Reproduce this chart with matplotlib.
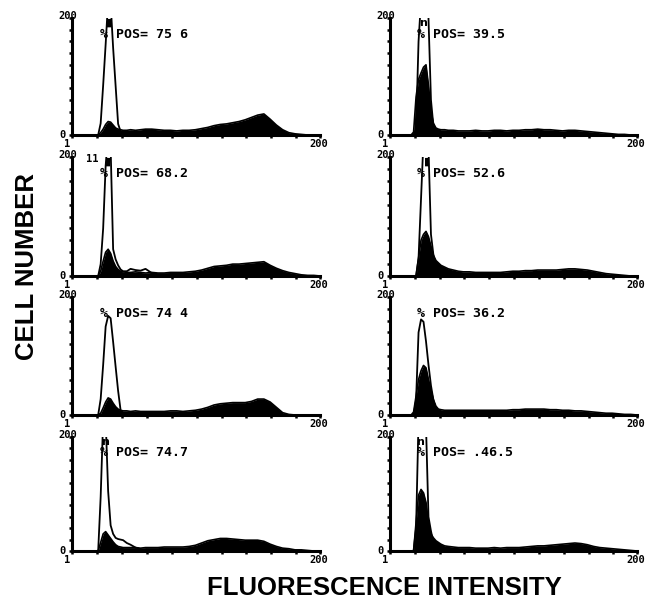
import matplotlib
matplotlib.use('Agg')
import matplotlib.pyplot as plt

# channel grids (fluorescence channel 1..200)
channels = [1, 10, 18, 20, 22, 24, 26, 28, 30, 32, 34, 36, 38, 40, 42, 45, 48, 52, 56,
            60, 65, 70, 75, 80, 85, 90, 95, 100, 105, 110, 115, 120, 125, 130, 135, 140,
            145, 150, 155, 160, 165, 170, 175, 180, 185, 190, 195, 200]
peak_channels = [1, 10, 18, 20, 22, 24, 26, 28, 30, 32, 34, 36, 38, 40, 42, 45, 48, 52, 56,
                 60, 65, 70, 200]

# stained sample (filled histograms)
test_a = [0, 0, 0, 0, 0, 4, 10, 18, 23, 22, 17, 12, 10, 9, 8, 8, 9, 8, 9,
          10, 10, 9, 8, 8, 7, 8, 8, 9, 11, 13, 16, 18, 19, 21, 23, 26, 30, 34, 36,
          27, 17, 9, 4, 2, 1, 0, 0, 0]
test_b = [0, 0, 0, 5, 65, 95, 106, 116, 120, 85, 40, 20, 12, 10, 9, 9, 8, 8, 7,
          7, 7, 8, 7, 7, 8, 8, 7, 8, 8, 9, 9, 10, 9, 9, 8, 7, 8, 8, 7,
          6, 5, 4, 3, 2, 1, 1, 0, 0]
test_c = [0, 0, 0, 0, 0, 8, 25, 40, 45, 38, 25, 16, 11, 8, 7, 6, 6, 7, 6,
          5, 6, 5, 5, 6, 6, 6, 7, 8, 10, 13, 16, 17, 18, 20, 20, 21, 22, 23, 24,
          18, 13, 9, 6, 4, 2, 1, 1, 0]
test_d = [0, 0, 0, 0, 0, 30, 60, 70, 75, 66, 50, 35, 26, 22, 18, 15, 12, 10, 8,
          7, 7, 6, 6, 6, 6, 6, 7, 8, 8, 9, 9, 10, 10, 10, 10, 11, 12, 12, 11,
          10, 8, 6, 4, 3, 2, 1, 0, 0]
test_e = [0, 0, 0, 0, 0, 3, 12, 22, 29, 27, 20, 14, 10, 8, 7, 7, 6, 7, 6,
          6, 6, 6, 6, 7, 7, 6, 7, 8, 10, 13, 17, 19, 20, 21, 21, 21, 23, 27, 27,
          22, 13, 4, 1, 0, 0, 0, 0, 0]
test_f = [0, 0, 0, 5, 32, 60, 75, 84, 80, 60, 42, 26, 15, 10, 9, 8, 8, 8, 8,
          8, 8, 8, 8, 8, 8, 8, 8, 9, 9, 10, 10, 10, 10, 9, 9, 8, 8, 7, 7,
          6, 5, 4, 3, 3, 2, 1, 1, 0]
test_g = [0, 0, 0, 0, 0, 15, 30, 34, 28, 22, 16, 11, 8, 7, 6, 6, 6, 6, 5,
          6, 6, 6, 7, 7, 7, 7, 8, 10, 14, 18, 20, 22, 22, 21, 20, 19, 19, 19, 17,
          12, 8, 5, 4, 2, 2, 1, 0, 0]
test_h = [0, 0, 0, 0, 50, 98, 108, 102, 85, 50, 30, 23, 18, 15, 12, 9, 8, 7, 6,
          6, 6, 5, 5, 5, 6, 5, 6, 6, 6, 7, 8, 9, 9, 10, 11, 12, 13, 14, 13,
          11, 8, 6, 5, 4, 3, 2, 1, 0]

# control (outline histograms), off-scale peaks go above 200
ctrl_a = [0, 0, 0, 0, 0, 20, 85, 155, 230, 225, 149, 84, 19, 6, 4, 3, 2, 1, 1, 0, 0, 0, 0]
ctrl_b = [0, 0, 0, 0, 10, 160, 230, 230, 230, 200, 60, 15, 5, 3, 2, 1, 0, 0, 0, 0, 0, 0, 0]
ctrl_c = [0, 0, 0, 0, 0, 20, 80, 185, 240, 215, 45, 28, 18, 11, 8, 8, 12, 10, 9, 12, 5, 3, 0]
ctrl_d = [0, 0, 0, 0, 0, 30, 130, 230, 240, 215, 70, 35, 15, 8, 5, 3, 0, 0, 0, 0, 0, 0, 0]
ctrl_e = [0, 0, 0, 0, 0, 27, 85, 150, 168, 164, 124, 82, 41, 8, 3, 2, 0, 0, 0, 0, 0, 0, 0]
ctrl_f = [0, 0, 0, 0, 25, 140, 162, 158, 125, 85, 50, 25, 10, 5, 3, 0, 0, 0, 0, 0, 0, 0, 0]
ctrl_g = [0, 0, 0, 0, 0, 95, 230, 230, 105, 45, 30, 23, 21, 20, 19, 14, 11, 6, 3, 2, 1, 0, 0]
ctrl_h = [0, 0, 0, 0, 40, 230, 230, 230, 220, 60, 35, 15, 8, 4, 2, 0, 0, 0, 0, 0, 0, 0, 0]

pos_labels = ['75 6', '39.5', '68.2', '52.6', '74 4', '36.2', '74.7', '.46.5']
overflow_ch = [31, 27.5, 30, 30.5, None, None, 27.5, 25.5]
overflow_glyph = ['\u25ae', 'n', '\u25ae', '\u25ae', '', '', 'n', 'n']

tests = [test_a, test_b, test_c, test_d, test_e, test_f, test_g, test_h]
ctrls = [ctrl_a, ctrl_b, ctrl_c, ctrl_d, ctrl_e, ctrl_f, ctrl_g, ctrl_h]

W, H = 658, 606
col_x = [(72, 320), (390, 637)]
row_y = [(18, 135), (157, 276), (297, 415), (437, 551)]

mono = 'DejaVu Sans Mono'
sans = ['Liberation Sans', 'DejaVu Sans']

fig = plt.figure(figsize=(W / 100, H / 100), dpi=100)
fig.patch.set_facecolor('white')

for idx in range(8):
    row, col = idx // 2, idx % 2
    x0, x1 = col_x[col]
    y0, y1 = row_y[row]
    ax = fig.add_axes([x0 / W, 1 - y1 / H, (x1 - x0) / W, (y1 - y0) / H])
    ax.fill_between(channels, tests[idx], color='black', lw=0)
    ax.plot(channels, tests[idx], color='black', lw=1.2)
    ax.plot(peak_channels, ctrls[idx], color='black', lw=1.3)
    ax.set_xlim(1, 200)
    ax.set_ylim(0, 200)
    for s in ['top', 'right']:
        ax.spines[s].set_visible(False)
    for s in ['left', 'bottom']:
        ax.spines[s].set_linewidth(2.2)
    ax.set_xticks(list(range(1, 200, 20)) + [200])
    ax.set_yticks(list(range(0, 201, 20)))
    ax.set_xticklabels([])
    ax.set_yticklabels([])
    ax.tick_params(axis='both', direction='out', length=2.5, width=1.8, color='black')

    # axis end labels
    ax.annotate('200', xy=(0, 1), xycoords='axes fraction', xytext=(-4, 2),
                textcoords='offset pixels', ha='center', va='center',
                fontsize=7.5, fontweight='bold', family=mono)
    ax.annotate('0', xy=(0, 0), xycoords='axes fraction', xytext=(-10, 0),
                textcoords='offset pixels', ha='center', va='center',
                fontsize=7.5, fontweight='bold', family=mono)
    ax.annotate('1', xy=(0, 0), xycoords='axes fraction', xytext=(-5, -9),
                textcoords='offset pixels', ha='center', va='center',
                fontsize=7.5, fontweight='bold', family=mono)
    ax.annotate('200', xy=(1, 0), xycoords='axes fraction', xytext=(-1, -9),
                textcoords='offset pixels', ha='center', va='center',
                fontsize=7.5, fontweight='bold', family=mono)

    ax.text(23.5 if col == 0 else 23, 172, '% POS= ' + pos_labels[idx],
            ha='left', va='center', fontsize=9.5, fontweight='bold', family=mono)
    if overflow_ch[idx] is not None:
        ax.text(overflow_ch[idx], 192, overflow_glyph[idx], ha='center', va='center',
                fontsize=8, fontweight='bold', family=['DejaVu Sans'], clip_on=False)
    if idx == 2:
        ax.text(17, 197, '11', ha='center', va='center', fontsize=7.5,
                fontweight='bold', family=mono)

fig.text(27 / W, 1 - 267 / H, 'CELL NUMBER', rotation=90, ha='center', va='center',
         fontsize=18.5, fontweight='bold', family=sans)
fig.text(384 / W, 1 - 588 / H, 'FLUORESCENCE INTENSITY', ha='center', va='center',
         fontsize=18.5, fontweight='bold', family=sans)

fig.savefig('out.png', dpi=100, facecolor='white')
